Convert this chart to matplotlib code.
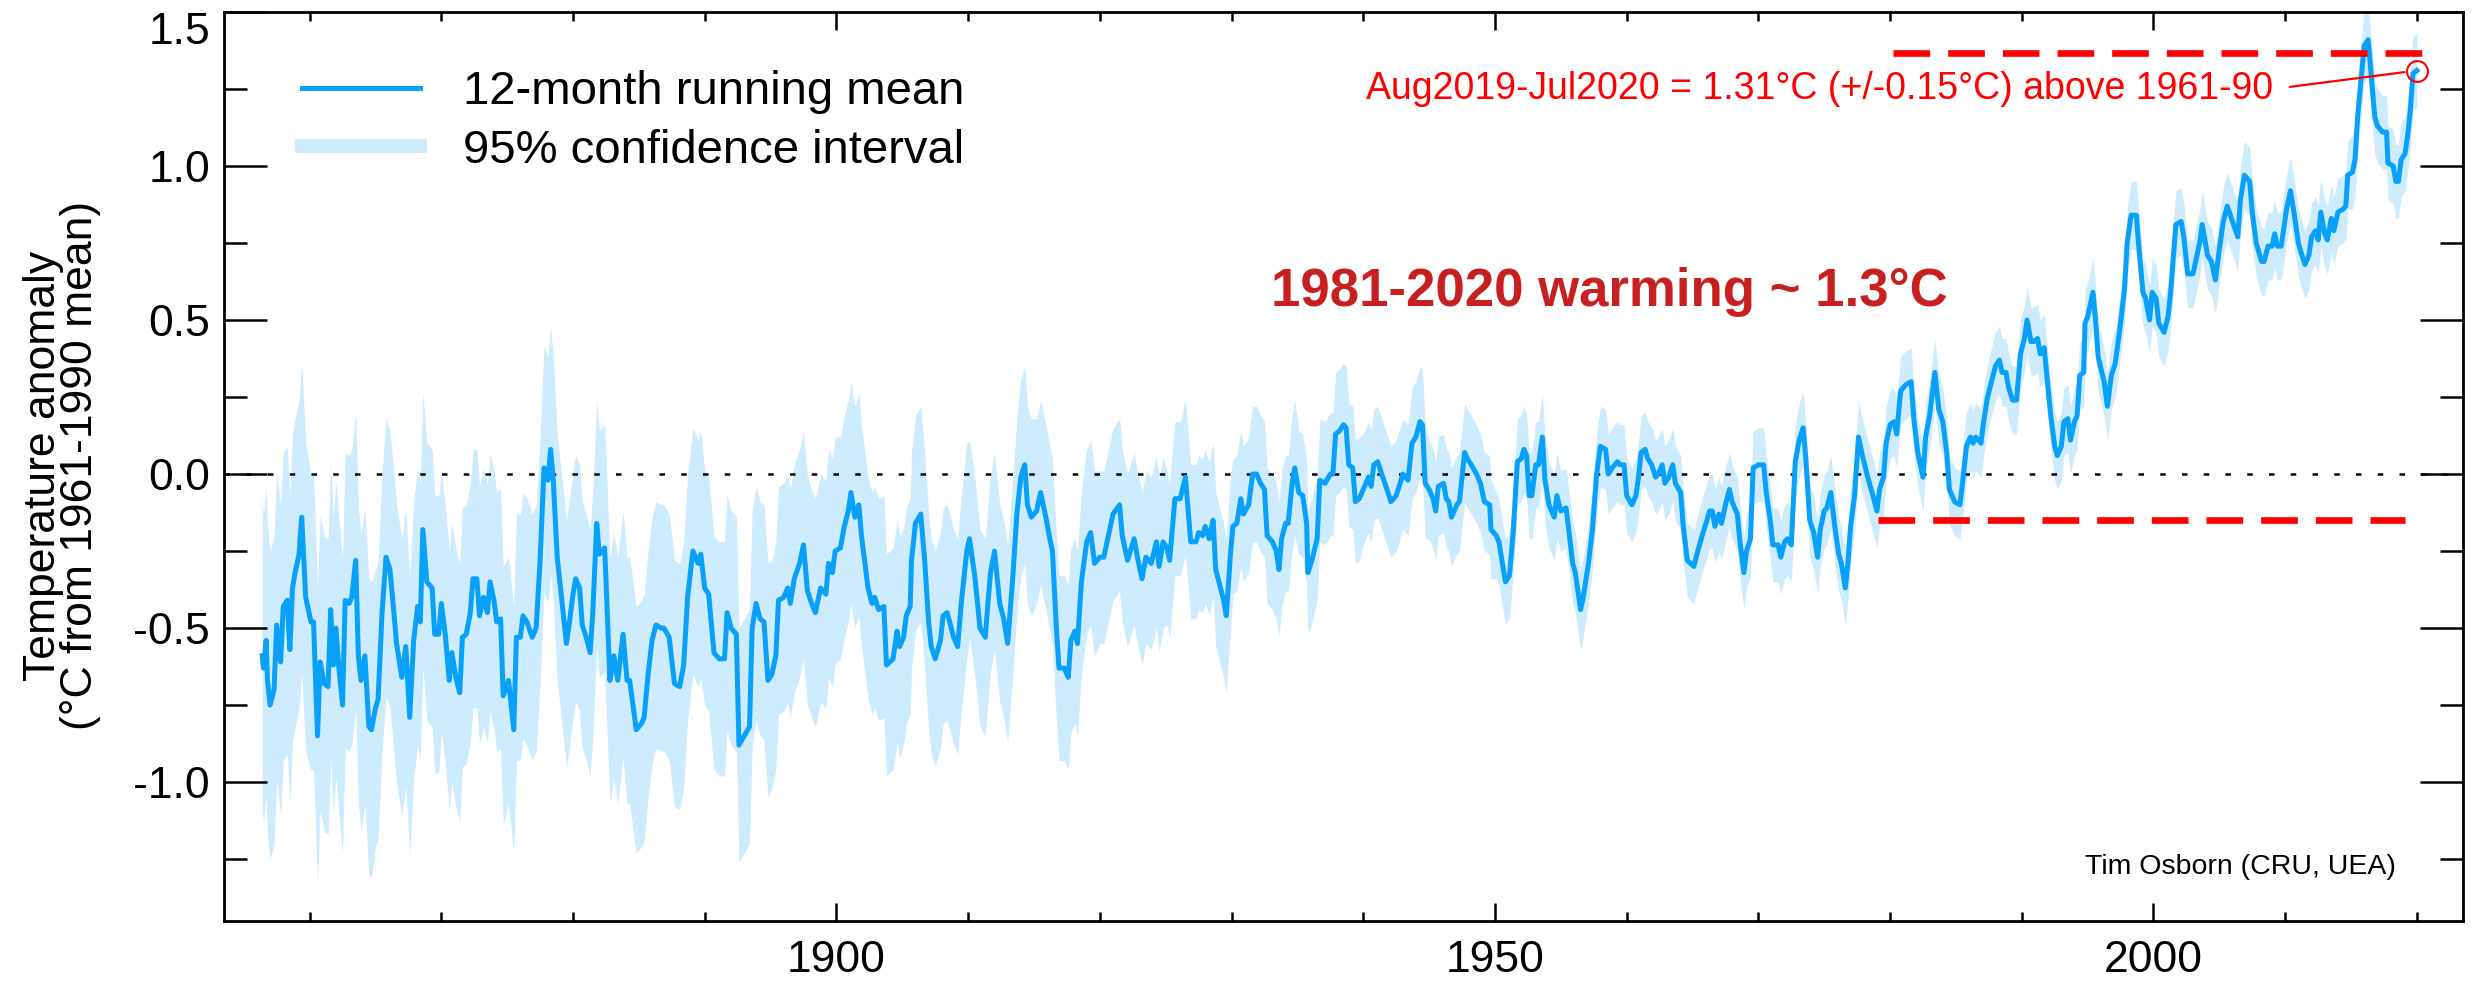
import numpy as np
import matplotlib
matplotlib.use("Agg")
import matplotlib.pyplot as plt
from matplotlib.lines import Line2D
from matplotlib.ticker import MultipleLocator, FormatStrFormatter

plt.rcParams['font.family'] = ['Liberation Sans', 'DejaVu Sans']
plt.rcParams['axes.unicode_minus'] = False

# 12-month running mean (year, deg C from 1961-90)
years = [
    1856.4, 1856.5, 1856.7, 1856.8, 1857.0, 1857.3, 1857.5, 1857.8, 1858.0, 1858.3,
    1858.5, 1858.7, 1858.9, 1859.2, 1859.4, 1859.7, 1860.1, 1860.3, 1860.6, 1860.8,
    1861.1, 1861.4, 1861.6, 1861.8, 1862.0, 1862.2, 1862.5, 1862.7, 1863.0, 1863.2,
    1863.5, 1863.7, 1863.9, 1864.2, 1864.5, 1864.7, 1865.0, 1865.2, 1865.5, 1865.8,
    1866.1, 1866.4, 1866.6, 1867.0, 1867.3, 1867.6, 1867.9, 1868.2, 1868.4, 1868.6,
    1868.9, 1869.3, 1869.5, 1869.8, 1870.0, 1870.3, 1870.6, 1870.8, 1871.1, 1871.4,
    1871.6, 1871.9, 1872.2, 1872.4, 1872.7, 1872.9, 1873.2, 1873.5, 1873.7, 1874.0,
    1874.2, 1874.5, 1874.7, 1875.1, 1875.5, 1875.7, 1876.0, 1876.2, 1876.5, 1876.9,
    1877.2, 1877.5, 1877.8, 1878.1, 1878.3, 1878.5, 1878.8, 1879.1, 1879.5,
    1879.7, 1880.0, 1880.2, 1880.5, 1880.7, 1881.0, 1881.3, 1881.5, 1881.8, 1882.0,
    1882.4, 1882.5, 1882.8, 1883.1, 1883.4, 1883.8, 1884.1, 1884.3, 1884.8, 1885.2,
    1885.4, 1885.7, 1886.0, 1886.3, 1886.7, 1886.9, 1887.3, 1887.7, 1888.1, 1888.4,
    1888.7, 1889.1, 1889.5, 1889.7, 1890.0, 1890.3, 1890.7, 1891.1, 1891.5, 1891.7,
    1892.0, 1892.4, 1892.6, 1893.0, 1893.4, 1893.6, 1893.9, 1894.2, 1894.5, 1894.8,
    1895.1, 1895.4, 1895.6, 1896.0, 1896.3, 1896.5, 1896.8, 1897.2, 1897.5, 1897.8,
    1898.2, 1898.4, 1898.8, 1899.2, 1899.4, 1899.7, 1899.9, 1900.3, 1900.6, 1900.9,
    1901.1, 1901.4, 1901.7, 1901.9,
    1902.4, 1902.7, 1902.9, 1903.2, 1903.6, 1903.8, 1904.3, 1904.6, 1904.8, 1905.1,
    1905.3, 1905.6, 1905.7, 1906.0, 1906.4, 1906.7, 1907.0, 1907.2, 1907.5, 1907.9,
    1908.1, 1908.4, 1908.6, 1908.9, 1909.2, 1909.5, 1909.9, 1910.1, 1910.5, 1910.9,
    1911.3, 1911.5, 1911.7, 1912.0, 1912.4, 1912.7, 1913.0, 1913.4, 1913.7, 1914.0,
    1914.3, 1914.5, 1914.8, 1915.2, 1915.5, 1915.9, 1916.2, 1916.4, 1916.7, 1916.9,
    1917.3, 1917.6, 1917.8, 1918.1, 1918.3, 1918.6, 1919.0, 1919.3, 1919.6, 1920.0,
    1920.3, 1920.7, 1921.0, 1921.5, 1921.7, 1922.1, 1922.6, 1922.9, 1923.2, 1923.5,
    1923.9, 1924.3, 1924.5, 1924.8, 1925.1, 1925.3,
    1925.7, 1926.1, 1926.5, 1926.9, 1927.3, 1927.5, 1927.8, 1928.0, 1928.3, 1928.6,
    1928.8, 1929.1, 1929.4, 1929.6, 1929.9, 1930.1, 1930.4, 1930.7, 1930.9, 1931.3,
    1931.6, 1931.9, 1932.2, 1932.5, 1932.7, 1933.1, 1933.4, 1933.6, 1933.8, 1934.1,
    1934.3, 1934.6, 1934.8, 1935.1, 1935.4, 1935.7, 1935.8, 1936.1, 1936.5, 1936.7,
    1937.1, 1937.5, 1937.7, 1937.9, 1938.2, 1938.5, 1938.7, 1938.9, 1939.2, 1939.4,
    1939.7, 1940.0, 1940.4, 1940.6, 1940.8, 1941.1, 1941.4, 1941.8, 1942.1, 1942.5,
    1942.8, 1943.0, 1943.4, 1943.7, 1944.0, 1944.3, 1944.5, 1944.7, 1945.0, 1945.3,
    1945.5, 1945.7, 1946.1, 1946.3, 1946.5, 1946.7, 1947.1, 1947.3, 1947.7, 1947.9,
    1948.2,
    1948.6, 1948.9, 1949.2, 1949.6, 1949.7, 1950.1, 1950.3, 1950.6, 1950.8, 1951.1,
    1951.4, 1951.7, 1952.0, 1952.2, 1952.4, 1952.6, 1952.8, 1953.1, 1953.3, 1953.6,
    1953.8, 1954.1, 1954.5, 1954.7, 1955.0, 1955.4, 1955.6, 1955.9, 1956.1, 1956.5,
    1956.7, 1957.1, 1957.4, 1957.7, 1958.0, 1958.4, 1958.6, 1958.9, 1959.3, 1959.5,
    1959.8, 1960.0, 1960.4, 1960.7, 1960.9, 1961.1, 1961.4, 1961.6, 1961.9, 1962.2,
    1962.4, 1962.7, 1962.9, 1963.2, 1963.5, 1963.7, 1964.1, 1964.3, 1964.6, 1965.1,
    1965.4, 1965.8, 1966.1, 1966.3, 1966.5, 1966.7, 1967.0, 1967.2, 1967.5, 1967.8,
    1968.0, 1968.4, 1968.6, 1968.9, 1969.1, 1969.4, 1969.6, 1970.0, 1970.4, 1970.6,
    1970.9, 1971.1, 1971.5, 1971.7, 1972.0, 1972.2, 1972.5,
    1972.8, 1973.1, 1973.4, 1973.6, 1973.9, 1974.2, 1974.5, 1974.7, 1975.0, 1975.2,
    1975.5, 1975.8, 1976.1, 1976.3, 1976.6, 1976.8, 1977.0, 1977.3, 1977.6, 1977.9,
    1978.3, 1978.7, 1979.0, 1979.2, 1979.5, 1979.7, 1980.0, 1980.3, 1980.5, 1980.8,
    1981.2, 1981.6, 1981.8, 1982.1, 1982.5, 1982.7, 1983.0, 1983.2, 1983.4, 1983.7,
    1984.0, 1984.3, 1984.5, 1984.9, 1985.3, 1985.5, 1985.8, 1986.1, 1986.3, 1986.5,
    1986.9, 1987.1, 1987.4, 1987.7, 1988.0, 1988.3, 1988.5, 1988.8, 1989.0, 1989.3,
    1989.6, 1989.9, 1990.2, 1990.4, 1990.7, 1990.9, 1991.2, 1991.4, 1991.7, 1991.9,
    1992.2, 1992.5, 1992.7, 1993.0, 1993.2, 1993.5, 1993.7, 1994.0, 1994.2, 1994.4,
    1994.7, 1994.8, 1995.0, 1995.4, 1995.6, 1995.8,
    1996.25, 1996.5, 1996.8, 1997.1, 1997.5, 1997.8, 1998.0, 1998.3, 1998.7, 1998.9,
    1999.2, 1999.4, 1999.7, 1999.9, 2000.2, 2000.4, 2000.8, 2001.1, 2001.3, 2001.7,
    2002.1, 2002.3, 2002.6, 2003.0, 2003.2, 2003.5, 2003.7, 2004.1, 2004.4, 2004.7,
    2005.0, 2005.3, 2005.6, 2006.0, 2006.4, 2006.6, 2006.9, 2007.3, 2007.5, 2007.8,
    2008.2, 2008.4, 2008.7, 2009.0, 2009.2, 2009.4, 2009.7, 2010.1, 2010.4, 2010.7,
    2011.0, 2011.2, 2011.5, 2011.8, 2012.0, 2012.3, 2012.5, 2012.7, 2013.0, 2013.2,
    2013.5, 2013.7, 2014.0, 2014.4, 2014.6, 2014.75, 2015.1, 2015.3, 2015.5, 2015.8,
    2016.0, 2016.3, 2016.5, 2016.8, 2017.0, 2017.4, 2017.7, 2017.8, 2018.2, 2018.4,
    2018.6, 2018.8, 2019.1, 2019.3, 2019.5, 2019.7, 2020.0,
]
anomaly = [
    -0.59, -0.63, -0.54, -0.67, -0.75, -0.70, -0.49, -0.61, -0.43, -0.41,
    -0.57, -0.37, -0.32, -0.26, -0.14, -0.40, -0.48, -0.48, -0.85, -0.61,
    -0.68, -0.69, -0.44, -0.62, -0.50, -0.62, -0.75, -0.41, -0.42, -0.40,
    -0.28, -0.59, -0.67, -0.59, -0.82, -0.83, -0.76, -0.73, -0.45, -0.27,
    -0.31, -0.45, -0.55, -0.66, -0.56, -0.79, -0.54, -0.43, -0.48, -0.18,
    -0.35, -0.37, -0.52, -0.52, -0.42, -0.52, -0.67, -0.58, -0.66, -0.71,
    -0.53, -0.52, -0.45, -0.34, -0.34, -0.46, -0.40, -0.45, -0.35, -0.41,
    -0.48, -0.47, -0.72, -0.67, -0.83, -0.53, -0.53, -0.46, -0.48, -0.53,
    -0.50, -0.28, 0.02, -0.02, 0.08, -0.02, -0.27, -0.39, -0.55,
    -0.49, -0.39, -0.34, -0.37, -0.49, -0.53, -0.58, -0.45, -0.16, -0.26,
    -0.24, -0.34, -0.67, -0.59, -0.67, -0.52, -0.67, -0.67, -0.83, -0.81,
    -0.79, -0.65, -0.54, -0.49, -0.50, -0.50, -0.53, -0.68, -0.69, -0.62,
    -0.40, -0.25, -0.29, -0.26, -0.37, -0.39, -0.58, -0.60, -0.60, -0.45,
    -0.50, -0.52, -0.88, -0.85, -0.82, -0.50, -0.42, -0.47, -0.48, -0.67,
    -0.65, -0.59, -0.41, -0.40, -0.37, -0.42, -0.34, -0.29, -0.23, -0.38,
    -0.43, -0.45, -0.37, -0.39, -0.29, -0.32, -0.25, -0.24, -0.17, -0.12,
    -0.06, -0.14, -0.10, -0.20,
    -0.37, -0.42, -0.40, -0.44, -0.43, -0.62, -0.60, -0.51, -0.56, -0.53,
    -0.46, -0.43, -0.28, -0.16, -0.13, -0.28, -0.48, -0.56, -0.60, -0.54,
    -0.46, -0.45, -0.48, -0.53, -0.56, -0.41, -0.25, -0.21, -0.33, -0.50,
    -0.53, -0.42, -0.32, -0.25, -0.42, -0.47, -0.55, -0.33, -0.13, -0.01,
    0.03, -0.10, -0.14, -0.12, -0.06, -0.14, -0.21, -0.25, -0.50, -0.63,
    -0.63, -0.66, -0.54, -0.51, -0.55, -0.35, -0.22, -0.19, -0.29, -0.27,
    -0.27, -0.19, -0.13, -0.10, -0.20, -0.28, -0.21, -0.28, -0.34, -0.27,
    -0.29, -0.22, -0.30, -0.22, -0.24, -0.28,
    -0.08, -0.08, -0.01, -0.22, -0.22, -0.19, -0.20, -0.17, -0.21, -0.15,
    -0.31, -0.36, -0.41, -0.46, -0.27, -0.17, -0.16, -0.08, -0.13, -0.10,
    0.00, 0.00, -0.03, -0.05, -0.20, -0.22, -0.25, -0.31, -0.21, -0.16,
    -0.16, -0.03, 0.02, -0.06, -0.07, -0.16, -0.32, -0.28, -0.21, -0.02,
    -0.03, 0.00, 0.00, 0.13, 0.14, 0.16, 0.15, 0.03, 0.02, -0.09,
    -0.08, -0.05, -0.01, -0.04, 0.03, 0.04, 0.00, -0.05, -0.09, -0.07,
    -0.03, 0.00, -0.02, 0.10, 0.12, 0.17, 0.16, -0.03, -0.05, -0.08,
    -0.12, -0.04, -0.03, -0.08, -0.09, -0.14, -0.10, -0.09, 0.07, 0.05,
    0.03,
    0.00, -0.03, -0.09, -0.10, -0.18, -0.20, -0.22, -0.30, -0.35, -0.33,
    -0.18, 0.04, 0.05, 0.08, 0.06, -0.07, -0.07, 0.03, 0.03, 0.12,
    -0.02, -0.10, -0.14, -0.07, -0.12, -0.11, -0.18, -0.29, -0.32, -0.44,
    -0.40, -0.29, -0.18, -0.01, 0.09, 0.08, 0.00, 0.02, 0.04, 0.03,
    0.03, -0.07, -0.10, -0.07, -0.01, 0.07, 0.08, 0.05, 0.03, -0.01,
    0.00, 0.03, -0.03, -0.01, 0.03, -0.03, -0.06, -0.17, -0.28, -0.30,
    -0.25, -0.19, -0.15, -0.12, -0.12, -0.17, -0.13, -0.16, -0.10, -0.05,
    -0.09, -0.13, -0.22, -0.32, -0.25, -0.21, 0.02, 0.03, 0.03, -0.06,
    -0.15, -0.23, -0.23, -0.27, -0.22, -0.21, -0.23,
    0.04, 0.11, 0.15, 0.05, -0.15, -0.19, -0.27, -0.18, -0.12, -0.11,
    -0.06, -0.17, -0.26, -0.29, -0.37, -0.29, -0.17, -0.07, 0.12, 0.06,
    -0.01, -0.07, -0.12, -0.05, -0.01, 0.10, 0.16, 0.17, 0.13, 0.27,
    0.29, 0.30, 0.18, 0.07, -0.01, 0.12, 0.19, 0.26, 0.33, 0.21,
    0.17, 0.07, -0.05, -0.09, -0.10, -0.03, 0.09, 0.12, 0.10, 0.12,
    0.10, 0.17, 0.25, 0.30, 0.35, 0.37, 0.33, 0.33, 0.28, 0.24,
    0.24, 0.39, 0.44, 0.50, 0.43, 0.43, 0.44, 0.39, 0.41, 0.32,
    0.19, 0.09, 0.06, 0.09, 0.17, 0.18, 0.11, 0.17, 0.19, 0.32,
    0.33, 0.49, 0.51, 0.59, 0.50, 0.38,
    0.30, 0.22, 0.32, 0.36, 0.49, 0.60, 0.75, 0.84, 0.84, 0.73,
    0.59, 0.57, 0.50, 0.59, 0.57, 0.49, 0.46, 0.51, 0.59, 0.81,
    0.82, 0.77, 0.65, 0.65, 0.69, 0.75, 0.81, 0.71, 0.69, 0.63,
    0.73, 0.82, 0.87, 0.82, 0.77, 0.89, 0.97, 0.95, 0.85, 0.75,
    0.69, 0.69, 0.74, 0.74, 0.78, 0.74, 0.74, 0.86, 0.92, 0.84,
    0.75, 0.72, 0.68, 0.71, 0.77, 0.79, 0.76, 0.85, 0.78, 0.76,
    0.83, 0.79, 0.85, 0.86, 0.87, 0.97, 0.98, 1.02, 1.16, 1.30,
    1.39, 1.41, 1.31, 1.16, 1.13, 1.11, 1.11, 1.01, 1.00, 0.95,
    0.95, 1.02, 1.04, 1.10, 1.18, 1.30, 1.31,
]

# half-width of the 95% band, one value per 5-year block from 1855
ci_start = 1855
ci_halfwidth = [0.50, 0.48, 0.45, 0.42, 0.40, 0.40, 0.40, 0.38, 0.37, 0.36,
                0.35, 0.32, 0.30, 0.28, 0.25, 0.22, 0.20, 0.18, 0.16, 0.14,
                0.13, 0.12, 0.12, 0.12, 0.12, 0.11, 0.11, 0.11, 0.11, 0.11,
                0.11, 0.11, 0.12, 0.12]

latest_year = 2020.0
latest_value = 1.31
low_level = -0.149
high_level = 1.368
low_span = [1979.1, 2019.1]
high_span = [1980.25, 2020.4]

label_mean = '12-month running mean'
label_ci = '95% confidence interval'
note_latest = 'Aug2019-Jul2020 = 1.31°C (+/-0.15°C) above 1961-90'
note_trend = '1981-2020 warming ~ 1.3°C'
credit = 'Tim Osborn (CRU, UEA)'

line_col = '#08A0F8'
band_col = '#CDEBFD'

yr = np.array(years)
temp = np.array(anomaly)
hw = np.array(ci_halfwidth)[((yr - ci_start) // 5).astype(int)]

fig = plt.figure(figsize=(24.74, 9.85), dpi=100)
ax = fig.add_axes([224 / 2474, 1 - 921 / 985, (2463 - 224) / 2474, (921 - 12) / 985])

ax.fill_between(yr, temp - hw, temp + hw, color=band_col, lw=0, zorder=1)
ax.axhline(0, color='k', lw=1.8, dashes=(2.2, 6.5), zorder=2)
ax.plot(yr, temp, color=line_col, lw=3.6, zorder=3)

ax.plot(low_span, [low_level, low_level], color='red', lw=4.8, dashes=(5.5, 2.7), zorder=4)
ax.plot(high_span, [high_level, high_level], color='red', lw=4.8, dashes=(5.5, 2.7), zorder=4)
ax.plot(latest_year, latest_value, 'o', mfc='none', mec='red', ms=15, mew=1.5, zorder=5)
ax.annotate(note_latest, xy=(latest_year, latest_value), xytext=(2009.1, 1.25),
            color='red', fontsize=27, ha='right', va='center',
            arrowprops=dict(arrowstyle='-', color='red', lw=1.6,
                            relpos=(1, 0.5), shrinkA=10, shrinkB=9))
ax.text(1933.0, 0.59, note_trend, color='#C82020', fontsize=38,
        fontweight='bold', va='center')
ax.text(2018.4, -1.277, credit, fontsize=20.5, ha='right', va='center')

handles = [Line2D([], [], color=line_col, lw=3.6),
           Line2D([], [], color=band_col, lw=10)]
ax.legend(handles, [label_mean, label_ci], loc='upper left',
          bbox_to_anchor=(0.035, 0.936), frameon=False, fontsize=34,
          handlelength=2.5, handletextpad=0.9, labelspacing=0.31,
          borderaxespad=0, borderpad=0)

ax.set_xlim(1853.5, 2023.5)
ax.set_ylim(-1.451, 1.5)
ax.set_xticks([1900, 1950, 2000])
ax.xaxis.set_minor_locator(MultipleLocator(10))
ax.set_yticks([-1.0, -0.5, 0.0, 0.5, 1.0, 1.5])
ax.yaxis.set_major_formatter(FormatStrFormatter('%.1f'))
ax.yaxis.set_minor_locator(MultipleLocator(0.25))

ax.tick_params(axis='both', which='both', direction='in', top=True, right=True,
               width=1.8, labelsize=32)
ax.tick_params(axis='x', which='major', length=13, pad=14)
ax.tick_params(axis='x', which='minor', length=6.5)
ax.tick_params(axis='y', which='major', length=31, pad=10)
ax.tick_params(axis='y', which='minor', length=16.5)
for s in ax.spines.values():
    s.set_linewidth(2)
ax.yaxis.get_major_ticks()[-1].label1.set_verticalalignment('top')

fig.text(0.025, 0.527, 'Temperature anomaly\n(°C from 1961-1990 mean)',
         rotation=90, ha='center', va='center', fontsize=32, linespacing=0.87)

fig.savefig('out.png', dpi=100)
